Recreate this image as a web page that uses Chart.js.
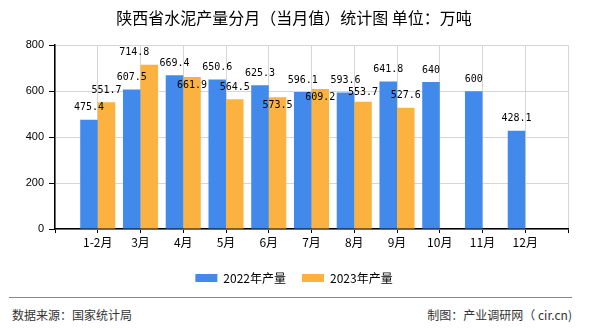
<!DOCTYPE html>
<html>
<head>
<meta charset="utf-8">
<script src="https://cdn.jsdelivr.net/npm/chart.js@4.4.1/dist/chart.umd.min.js"></script>
<style>
  html, body { margin: 0; padding: 0; background: #fff; }
  #wrap { position: relative; width: 590px; height: 330px; overflow: hidden; }
  #chart { position: absolute; left: 0; top: 0; }
  .rule { position: absolute; left: 9px; top: 297px; width: 563px; height: 0; border-top: 1px solid #888; }
  .foot { position: absolute; top: 307px; font: 12px "Noto Sans CJK SC", sans-serif; color: #333; line-height: 16px; white-space: nowrap; }
</style>
</head>
<body>
<div id="wrap">
  <canvas id="chart" width="590" height="294"></canvas>
  <div class="rule"></div>
  <div class="foot" style="left:12px">数据来源：国家统计局</div>
  <div class="foot" style="right:18px">制图：产业调研网（ cir.cn)</div>
</div>
<script>
const months = ['1-2月', '3月', '4月', '5月', '6月', '7月', '8月', '9月', '10月', '11月', '12月'];
const output2022 = [475.4, 607.5, 669.4, 650.6, 625.3, 596.1, 593.6, 641.8, 640, 600, 428.1];
const output2023 = [551.7, 714.8, 661.9, 564.5, 573.5, 609.2, 553.7, 527.6];
const yTicks = [0, 200, 400, 600, 800];

// empty slot before the first and after the last month
const pad = arr => [null, ...months.map((_, i) => arr[i] ?? null), null];
const labels = ['', ...months, ''];

// value labels above the bars, moved aside when they would overlap
const valueLabels = {
  id: 'valueLabels',
  afterDatasetsDraw(chart) {
    const ctx = chart.ctx;
    ctx.save();
    ctx.font = '10px "DejaVu Sans Mono", monospace';
    ctx.fillStyle = '#000';
    ctx.textAlign = 'center';
    ctx.textBaseline = 'middle';
    const placed = [];
    const clash = (x, y, w) => placed.find(p => Math.abs(p.x - x) < (p.w + w) / 2 && Math.abs(p.y - y) < 12);
    chart.data.datasets.forEach((ds, di) => {
      chart.getDatasetMeta(di).data.forEach((bar, i) => {
        const v = ds.data[i];
        if (v == null) return;
        const text = String(v);
        const w = ctx.measureText(text).width;
        let x = bar.x, y = bar.y - 12;
        const hit = clash(x, y, w);
        if (hit) {
          const below = hit.y + 12;
          if (below <= bar.y - 6 && !clash(x, below, w)) {
            y = below;
          } else if (!clash(x, bar.y + 8, w)) {
            y = bar.y + 8;
          } else {
            x = bar.x - w / 2;
          }
        }
        ctx.fillText(text, x, y);
        placed.push({ x, y, w });
      });
    });
    ctx.restore();
  }
};

new Chart(document.getElementById('chart'), {
  type: 'bar',
  data: {
    labels: labels,
    datasets: [
      { label: '2022年产量', data: pad(output2022), backgroundColor: '#418aeb' },
      { label: '2023年产量', data: pad(output2023), backgroundColor: '#fbb240' }
    ]
  },
  options: {
    responsive: false,
    animation: false,
    layout: { padding: { left: 20, right: 22, top: 0, bottom: 0 } },
    datasets: { bar: { barPercentage: 1, categoryPercentage: 0.82 } },
    plugins: {
      title: {
        display: true,
        text: '陕西省水泥产量分月（当月值）统计图 单位：万吨',
        color: '#000',
        font: { size: 16, family: '"Noto Sans CJK SC", sans-serif', weight: 'normal' },
        padding: { top: 8, bottom: 18 }
      },
      legend: {
        position: 'bottom',
        labels: {
          boxWidth: 22,
          boxHeight: 8,
          padding: 16,
          color: '#000',
          font: { size: 12, family: '"Noto Sans CJK SC", sans-serif' }
        }
      },
      tooltip: { enabled: false }
    },
    scales: {
      x: {
        offset: false,
        grid: { offset: false, color: '#d6d6d6', tickColor: '#000', tickLength: 4 },
        border: { color: '#000', width: 1.5 },
        ticks: {
          autoSkip: false,
          maxRotation: 0,
          padding: 2,
          color: '#000',
          font: { size: 12, family: '"Noto Sans CJK SC", sans-serif' }
        },
        afterFit: s => { s.height = 27; }
      },
      y: {
        min: yTicks[0],
        max: yTicks[yTicks.length - 1],
        grid: { color: '#d6d6d6', tickColor: '#000', tickLength: 6 },
        border: { color: '#000', width: 1.5 },
        ticks: {
          stepSize: yTicks[1] - yTicks[0],
          padding: 5,
          color: '#000',
          font: { size: 11, family: '"Liberation Sans", Arial, sans-serif' }
        },
        afterFit: s => { s.width = 35; }
      }
    }
  },
  plugins: [valueLabels]
});
</script>
</body>
</html>
